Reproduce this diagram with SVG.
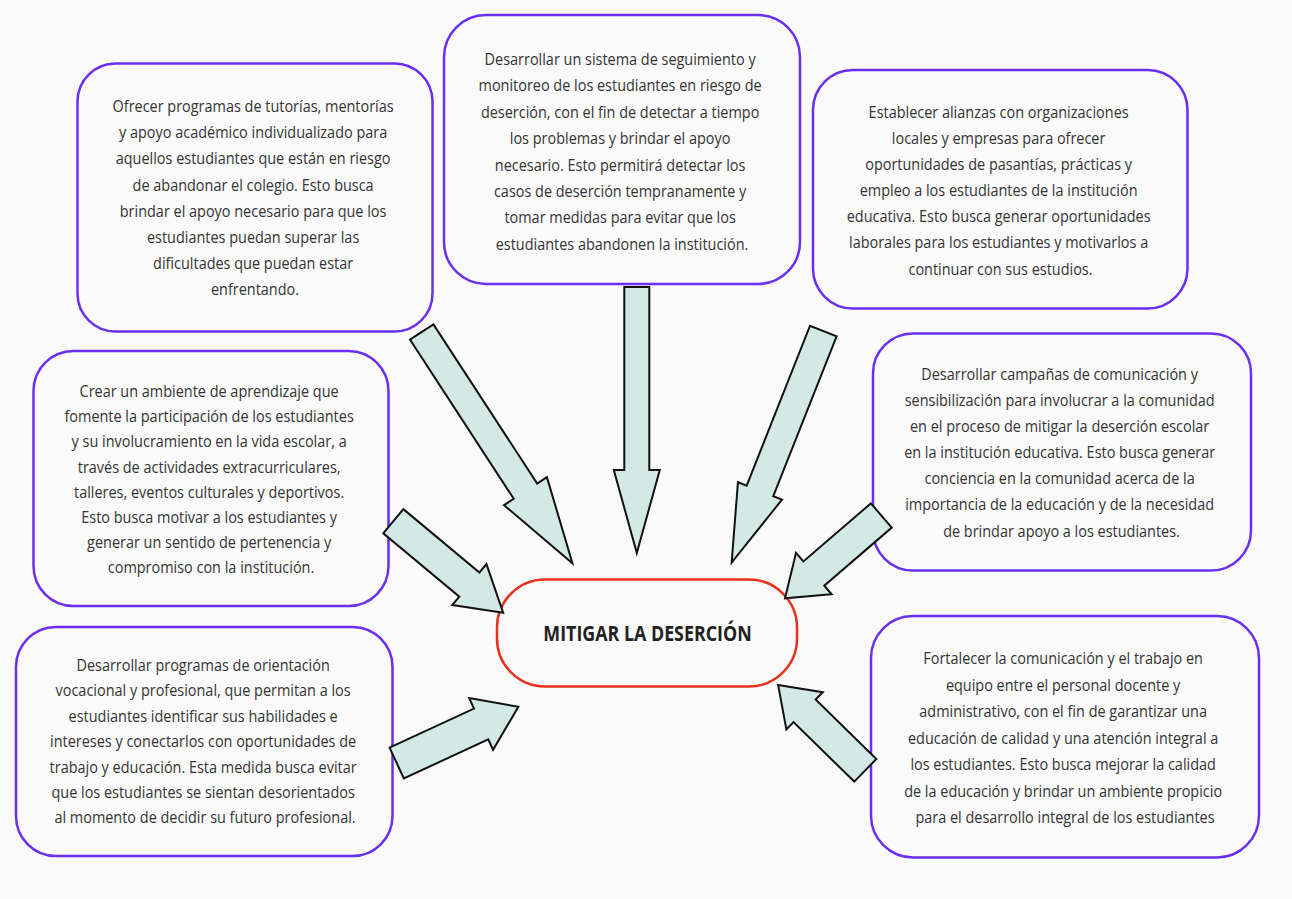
<svg xmlns="http://www.w3.org/2000/svg" width="1292" height="899" viewBox="0 0 1292 899">
<style>
.bg{fill:#fafafa}
.box{fill:#fafafa;stroke:#6a2ff0;stroke-width:2.5}
.center{fill:#fafafa;stroke:#e8321e;stroke-width:2.5}
.arr{fill:#d3e9e6;stroke:#111;stroke-width:2;stroke-linejoin:miter}
.t{font-family:"Open Sans","Noto Sans","Liberation Sans",sans-serif;font-size:17px;fill:#333;text-anchor:middle}
.ct{font-family:"Open Sans","Noto Sans","Liberation Sans",sans-serif;font-size:21px;font-weight:bold;fill:#222;text-anchor:middle}
</style>
<rect class="bg" x="0" y="0" width="1292" height="899"/>

<g id="node-tutorias">
  <rect class="box" x="77.5" y="63.5" width="355" height="268" rx="38"/>
  <g transform="translate(255,0) scale(0.85,1)">
    <text class="t">
      <tspan x="0" y="112">Ofrecer programas de tutorías, mentorías</tspan>
      <tspan x="0" y="138.2">y apoyo académico individualizado para</tspan>
      <tspan x="0" y="164.4">aquellos estudiantes que están en riesgo</tspan>
      <tspan x="0" y="190.6">de abandonar el colegio. Esto busca</tspan>
      <tspan x="0" y="216.8">brindar el apoyo necesario para que los</tspan>
      <tspan x="0" y="243">estudiantes puedan superar las</tspan>
      <tspan x="0" y="269.2">dificultades que puedan estar</tspan>
      <tspan x="0" y="295.4">enfrentando.</tspan>
    </text>
  </g>
</g>

<g id="node-seguimiento">
  <rect class="box" x="444" y="15" width="356" height="269" rx="42"/>
  <g transform="translate(622,0) scale(0.85,1)">
    <text class="t">
      <tspan x="0" y="65">Desarrollar un sistema de seguimiento y</tspan>
      <tspan x="0" y="91.4">monitoreo de los estudiantes en riesgo de</tspan>
      <tspan x="0" y="117.8">deserción, con el fin de detectar a tiempo</tspan>
      <tspan x="0" y="144.2">los problemas y brindar el apoyo</tspan>
      <tspan x="0" y="170.6">necesario. Esto permitirá detectar los</tspan>
      <tspan x="0" y="197">casos de deserción tempranamente y</tspan>
      <tspan x="0" y="223.4">tomar medidas para evitar que los</tspan>
      <tspan x="0" y="249.8">estudiantes abandonen la institución.</tspan>
    </text>
  </g>
</g>

<g id="node-alianzas">
  <rect class="box" x="813" y="70" width="374.5" height="238.5" rx="40"/>
  <g transform="translate(1000.5,0) scale(0.85,1)">
    <text class="t">
      <tspan x="0" y="118">Establecer alianzas con organizaciones</tspan>
      <tspan x="0" y="144.1">locales y empresas para ofrecer</tspan>
      <tspan x="0" y="170.2">oportunidades de pasantías, prácticas y</tspan>
      <tspan x="0" y="196.3">empleo a los estudiantes de la institución</tspan>
      <tspan x="0" y="222.4">educativa. Esto busca generar oportunidades</tspan>
      <tspan x="0" y="248.5">laborales para los estudiantes y motivarlos a</tspan>
      <tspan x="0" y="274.6">continuar con sus estudios.</tspan>
    </text>
  </g>
</g>

<g id="node-campanas">
  <rect class="box" x="873" y="333.5" width="378" height="237" rx="40"/>
  <g transform="translate(1061.5,0) scale(0.85,1)">
    <text class="t">
      <tspan x="0" y="380">Desarrollar campañas de comunicación y</tspan>
      <tspan x="0" y="406.1">sensibilización para involucrar a la comunidad</tspan>
      <tspan x="0" y="432.2">en el proceso de mitigar la deserción escolar</tspan>
      <tspan x="0" y="458.3">en la institución educativa. Esto busca generar</tspan>
      <tspan x="0" y="484.4">conciencia en la comunidad acerca de la</tspan>
      <tspan x="0" y="510.5">importancia de la educación y de la necesidad</tspan>
      <tspan x="0" y="536.6">de brindar apoyo a los estudiantes.</tspan>
    </text>
  </g>
</g>

<g id="node-comunicacion">
  <rect class="box" x="871" y="616" width="388" height="241.5" rx="42"/>
  <g transform="translate(1065,0) scale(0.85,1)">
    <text class="t">
      <tspan x="0" y="664.5">Fortalecer la comunicación y el trabajo en</tspan>
      <tspan x="0" y="691">equipo entre el personal docente y</tspan>
      <tspan x="0" y="717.5">administrativo, con el fin de garantizar una</tspan>
      <tspan x="0" y="744">educación de calidad y una atención integral a</tspan>
      <tspan x="0" y="770.5">los estudiantes. Esto busca mejorar la calidad</tspan>
      <tspan x="0" y="797">de la educación y brindar un ambiente propicio</tspan>
      <tspan x="0" y="823.5">para el desarrollo integral de los estudiantes</tspan>
    </text>
  </g>
</g>

<g id="node-ambiente">
  <rect class="box" x="33.5" y="351" width="355" height="255" rx="40"/>
  <g transform="translate(211,0) scale(0.85,1)">
    <text class="t">
      <tspan x="0" y="397">Crear un ambiente de aprendizaje que</tspan>
      <tspan x="0" y="422.2">fomente la participación de los estudiantes</tspan>
      <tspan x="0" y="447.4">y su involucramiento en la vida escolar, a</tspan>
      <tspan x="0" y="472.6">través de actividades extracurriculares,</tspan>
      <tspan x="0" y="497.8">talleres, eventos culturales y deportivos.</tspan>
      <tspan x="0" y="523">Esto busca motivar a los estudiantes y</tspan>
      <tspan x="0" y="548.2">generar un sentido de pertenencia y</tspan>
      <tspan x="0" y="573.4">compromiso con la institución.</tspan>
    </text>
  </g>
</g>

<g id="node-orientacion">
  <rect class="box" x="16" y="627" width="376.5" height="229" rx="40"/>
  <g transform="translate(205,0) scale(0.85,1)">
    <text class="t">
      <tspan x="0" y="671">Desarrollar programas de orientación</tspan>
      <tspan x="0" y="696.4">vocacional y profesional, que permitan a los</tspan>
      <tspan x="0" y="721.8">estudiantes identificar sus habilidades e</tspan>
      <tspan x="0" y="747.2">intereses y conectarlos con oportunidades de</tspan>
      <tspan x="0" y="772.6">trabajo y educación. Esta medida busca evitar</tspan>
      <tspan x="0" y="798">que los estudiantes se sientan desorientados</tspan>
      <tspan x="0" y="823.4">al momento de decidir su futuro profesional.</tspan>
    </text>
  </g>
</g>

<g id="node-mitigar">
  <rect class="center" x="497" y="579.5" width="300" height="107" rx="48"/>
  <g transform="translate(647.5,0) scale(0.85,1)">
    <text class="ct" x="0" y="641.5">MITIGAR LA DESERCIÓN</text>
  </g>
</g>

<g id="connectors">
  <polygon class="arr" transform="translate(421.7,332) rotate(56.9)" points="0,-14 190,-14 190,-25.6 276,0 190,25.6 190,14 0,14"/>
  <polygon class="arr" transform="translate(636.8,287) rotate(90)" points="0,-12.5 183,-12.5 183,-23 266,0 183,23 183,12.5 0,12.5"/>
  <polygon class="arr" transform="translate(823.3,331) rotate(111.6)" points="0,-14.3 172,-14.3 172,-23.7 249,0 172,23.7 172,14.3 0,14.3"/>
  <polygon class="arr" transform="translate(393.3,521.2) rotate(39.8)" points="0,-15.7 99,-15.7 99,-26.7 143,0 99,26.7 99,15.7 0,15.7"/>
  <polygon class="arr" transform="translate(396.7,763) rotate(-24.8)" points="0,-17 93,-17 93,-28.5 134,0 93,28.5 93,17 0,17"/>
  <polygon class="arr" transform="translate(881.3,515.5) rotate(139.3)" points="0,-16 89,-16 89,-27.3 127,0 89,27.3 89,16 0,16"/>
  <polygon class="arr" transform="translate(865.3,770.3) rotate(-135.6)" points="0,-15.8 85,-15.8 85,-26 122,0 85,26 85,15.8 0,15.8"/>
</g>
</svg>
